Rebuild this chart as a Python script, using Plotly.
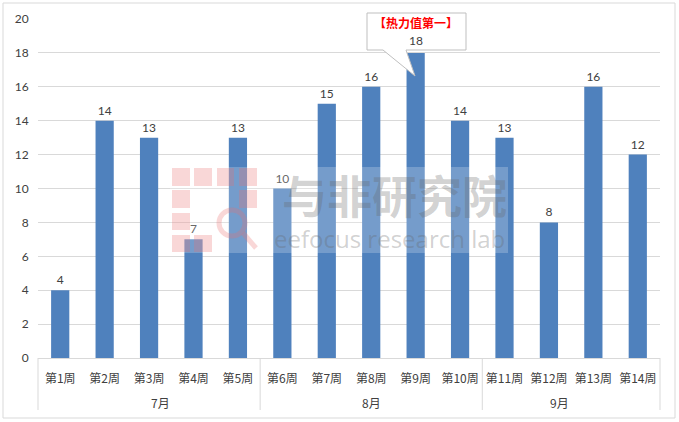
import plotly.graph_objects as go

weeks = ["第1周", "第2周", "第3周", "第4周", "第5周", "第6周", "第7周",
         "第8周", "第9周", "第10周", "第11周", "第12周", "第13周", "第14周"]
values = [4, 14, 13, 7, 13, 10, 15, 16, 18, 14, 13, 8, 16, 12]
months = ["7月", "8月", "9月"]
month_spans = [(0, 5), (5, 10), (10, 14)]
y_ticks = list(range(0, 21, 2))
callout_text = "【热力值第一】"
callout_idx = 8

W, H = 679, 422
L, R, T, B = 38, 660, 19, 358


def px(p):
    return (p - L) / (R - L)


def py(p):
    return (B - p) / (B - T)


font_main = "Lato, 'Noto Sans CJK SC', sans-serif"
font_cjk = "'Noto Sans CJK SC', sans-serif"

bar_text = [("" if i == callout_idx else str(v)) for i, v in enumerate(values)]

fig = go.Figure()
fig.add_trace(go.Bar(
    x=list(range(len(weeks))), y=values, width=0.41,
    marker=dict(color="#4f81bd", line=dict(width=0)),
    text=bar_text, textposition="outside", cliponaxis=False,
    textfont=dict(size=12, color="#404040", family=font_main),
    hoverinfo="skip",
))

shapes = []
annotations = []

# outer border
shapes.append(dict(type="rect", xref="paper", yref="paper",
                   x0=px(3), x1=px(675), y0=py(418), y1=py(3),
                   line=dict(color="#d9d9d9", width=1), fillcolor="rgba(0,0,0,0)",
                   layer="below"))

# month separators
n = len(weeks)
for b in [0, 5, 10, 14]:
    shapes.append(dict(type="line", xref="paper", yref="paper",
                       x0=b / n, x1=b / n, y0=0, y1=py(410),
                       line=dict(color="#d9d9d9", width=1)))
for m, (a, b) in zip(months, month_spans):
    annotations.append(dict(xref="paper", yref="paper", x=(a + b) / 2 / n, y=py(402),
                            text=m, showarrow=False, yanchor="middle",
                            font=dict(size=12, color="#404040", family=font_cjk)))

# watermark background (semi-transparent white)
shapes.append(dict(type="rect", xref="paper", yref="paper",
                   x0=px(170), x1=px(508), y0=py(253), y1=py(167),
                   line=dict(width=0), fillcolor="rgba(255,255,255,0.22)", layer="above"))

# watermark logo (squares + magnifier)
pink = "rgba(235,110,110,0.28)"
cols = [(172, 190), (194, 212), (217, 234), (239, 257)]
rows = [(168, 186), (190, 208), (213, 230), (235, 252)]
cells = [(0, 0), (0, 1), (0, 2), (0, 3), (1, 0), (1, 3), (2, 0), (3, 0), (3, 1)]
for r, c in cells:
    shapes.append(dict(type="rect", xref="paper", yref="paper",
                       x0=px(cols[c][0]), x1=px(cols[c][1]),
                       y0=py(rows[r][1]), y1=py(rows[r][0]),
                       line=dict(width=0), fillcolor=pink, layer="above"))
shapes.append(dict(type="circle", xref="paper", yref="paper",
                   x0=px(219), x1=px(245), y0=py(236), y1=py(210),
                   line=dict(color=pink, width=5), fillcolor="rgba(0,0,0,0)", layer="above"))
shapes.append(dict(type="line", xref="paper", yref="paper",
                   x0=px(243), x1=px(256), y0=py(233), y1=py(248),
                   line=dict(color=pink, width=5), layer="above"))

# watermark text
wm = "rgba(100,100,100,0.3)"
annotations.append(dict(xref="paper", yref="paper", x=px(394), y=py(194),
                        text="<b>与非研究院</b>", showarrow=False, yanchor="middle",
                        font=dict(size=45, color=wm, family=font_cjk)))
annotations.append(dict(xref="paper", yref="paper", x=px(389), y=py(238),
                        text="eefocus research lab", showarrow=False, yanchor="middle",
                        font=dict(size=24, color=wm, family="'Open Sans', sans-serif")))

# callout
path = "M {a},{t} L {b},{t} L {b},{bt} L {p2},{bt} L {tx},{ty} L {p1},{bt} L {a},{bt} Z".format(
    a=px(367), b=px(466), t=py(13), bt=py(50), p1=px(383), p2=px(406), tx=px(415), ty=py(76))
shapes.append(dict(type="path", xref="paper", yref="paper", path=path,
                   fillcolor="white", line=dict(color="#bfbfbf", width=1), layer="above"))
annotations.append(dict(xref="paper", yref="paper", x=px(416), y=py(22),
                        text="<b>" + callout_text + "</b>", showarrow=False, yanchor="middle",
                        font=dict(size=12, color="#ff0000", family=font_cjk)))
annotations.append(dict(xref="paper", yref="paper", x=px(416), y=py(40),
                        text=str(values[callout_idx]), showarrow=False, yanchor="middle",
                        font=dict(size=12, color="#404040", family=font_main)))

fig.update_layout(
    width=W, height=H,
    margin=dict(l=L, r=W - R, t=T, b=H - B),
    paper_bgcolor="white", plot_bgcolor="white",
    showlegend=False,
    shapes=shapes, annotations=annotations,
    xaxis=dict(range=[-0.5, n - 0.5], tickvals=list(range(n)), ticktext=weeks,
               showgrid=False, zeroline=False, showline=True, linecolor="#d9d9d9",
               ticks="outside", ticklen=10, tickcolor="rgba(0,0,0,0)",
               tickfont=dict(size=12, color="#404040", family=font_cjk),
               fixedrange=True),
    yaxis=dict(range=[0, 20], tickvals=y_ticks, showgrid=True, gridcolor="#d9d9d9",
               zeroline=False, showline=False, ticks="outside", ticklen=6,
               tickcolor="rgba(0,0,0,0)",
               tickfont=dict(size=12, color="#404040", family=font_main),
               fixedrange=True),
    bargap=0.59,
)

fig.write_html("out.html", config={"displayModeBar": False},
               post_script="document.body.style.margin='0';document.body.style.overflow='hidden';")
